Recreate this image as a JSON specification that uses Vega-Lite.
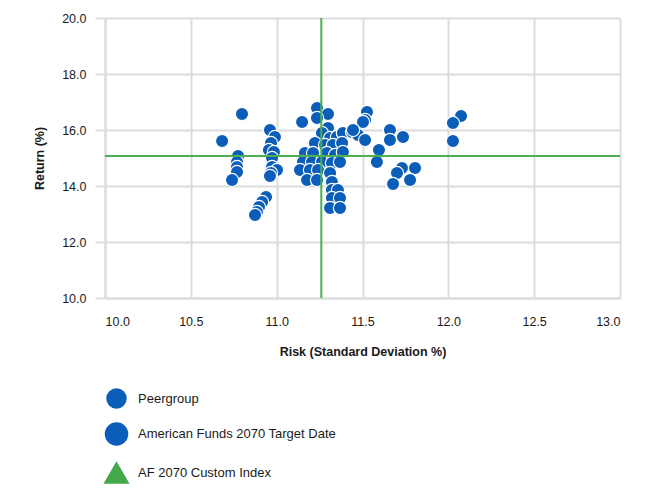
{
  "$schema": "https://vega.github.io/schema/vega-lite/v6.json",
  "width": 515,
  "height": 280,
  "autosize": "none",
  "padding": {"left": 105, "top": 18, "right": 44, "bottom": 190},
  "background": "white",
  "config": {
    "view": {"stroke": null},
    "font": "Liberation Sans",
    "axis": {
      "labelFont": "Liberation Sans",
      "labelFontSize": 12.5,
      "labelColor": "#1a1a1a",
      "titleFont": "Liberation Sans",
      "titleFontSize": 12.5,
      "titleFontWeight": "bold",
      "titleColor": "#1a1a1a",
      "gridColor": "#dcdcdc",
      "gridWidth": 2,
      "domainColor": "#dcdcdc",
      "domainWidth": 2,
      "tickColor": "#dcdcdc",
      "tickWidth": 2
    }
  },
  "datasets": {
    "points": [
      {"risk": 10.798, "ret": 16.571, "series": "Peergroup"},
      {"risk": 10.682, "ret": 15.607, "series": "Peergroup"},
      {"risk": 10.775, "ret": 15.071, "series": "Peergroup"},
      {"risk": 10.769, "ret": 14.857, "series": "Peergroup"},
      {"risk": 10.769, "ret": 14.679, "series": "Peergroup"},
      {"risk": 10.769, "ret": 14.5, "series": "Peergroup"},
      {"risk": 10.74, "ret": 14.214, "series": "Peergroup"},
      {"risk": 10.938, "ret": 13.607, "series": "Peergroup"},
      {"risk": 10.915, "ret": 13.429, "series": "Peergroup"},
      {"risk": 10.897, "ret": 13.25, "series": "Peergroup"},
      {"risk": 10.885, "ret": 13.071, "series": "Peergroup"},
      {"risk": 10.874, "ret": 12.964, "series": "Peergroup"},
      {"risk": 10.961, "ret": 16.0, "series": "Peergroup"},
      {"risk": 10.99, "ret": 15.75, "series": "Peergroup"},
      {"risk": 10.967, "ret": 15.536, "series": "Peergroup"},
      {"risk": 10.955, "ret": 15.286, "series": "Peergroup"},
      {"risk": 10.984, "ret": 15.214, "series": "Peergroup"},
      {"risk": 10.973, "ret": 15.0, "series": "Peergroup"},
      {"risk": 10.973, "ret": 14.679, "series": "Peergroup"},
      {"risk": 11.002, "ret": 14.571, "series": "Peergroup"},
      {"risk": 10.967, "ret": 14.464, "series": "Peergroup"},
      {"risk": 10.961, "ret": 14.357, "series": "Peergroup"},
      {"risk": 11.235, "ret": 16.786, "series": "Peergroup"},
      {"risk": 11.299, "ret": 16.571, "series": "Peergroup"},
      {"risk": 11.235, "ret": 16.429, "series": "Peergroup"},
      {"risk": 11.148, "ret": 16.286, "series": "Peergroup"},
      {"risk": 11.299, "ret": 16.071, "series": "Peergroup"},
      {"risk": 11.264, "ret": 15.893, "series": "Peergroup"},
      {"risk": 11.311, "ret": 15.714, "series": "Peergroup"},
      {"risk": 11.351, "ret": 15.75, "series": "Peergroup"},
      {"risk": 11.386, "ret": 15.893, "series": "Peergroup"},
      {"risk": 11.439, "ret": 15.929, "series": "Peergroup"},
      {"risk": 11.474, "ret": 15.821, "series": "Peergroup"},
      {"risk": 11.223, "ret": 15.536, "series": "Peergroup"},
      {"risk": 11.282, "ret": 15.464, "series": "Peergroup"},
      {"risk": 11.328, "ret": 15.464, "series": "Peergroup"},
      {"risk": 11.381, "ret": 15.536, "series": "Peergroup"},
      {"risk": 11.165, "ret": 15.179, "series": "Peergroup"},
      {"risk": 11.212, "ret": 15.179, "series": "Peergroup"},
      {"risk": 11.293, "ret": 15.179, "series": "Peergroup"},
      {"risk": 11.34, "ret": 15.107, "series": "Peergroup"},
      {"risk": 11.386, "ret": 15.214, "series": "Peergroup"},
      {"risk": 11.153, "ret": 14.857, "series": "Peergroup"},
      {"risk": 11.206, "ret": 14.857, "series": "Peergroup"},
      {"risk": 11.264, "ret": 14.857, "series": "Peergroup"},
      {"risk": 11.322, "ret": 14.821, "series": "Peergroup"},
      {"risk": 11.369, "ret": 14.857, "series": "Peergroup"},
      {"risk": 11.136, "ret": 14.571, "series": "Peergroup"},
      {"risk": 11.194, "ret": 14.571, "series": "Peergroup"},
      {"risk": 11.241, "ret": 14.571, "series": "Peergroup"},
      {"risk": 11.311, "ret": 14.464, "series": "Peergroup"},
      {"risk": 11.177, "ret": 14.214, "series": "Peergroup"},
      {"risk": 11.235, "ret": 14.214, "series": "Peergroup"},
      {"risk": 11.322, "ret": 14.143, "series": "Peergroup"},
      {"risk": 11.322, "ret": 13.857, "series": "Peergroup"},
      {"risk": 11.357, "ret": 13.857, "series": "Peergroup"},
      {"risk": 11.322, "ret": 13.571, "series": "Peergroup"},
      {"risk": 11.369, "ret": 13.571, "series": "Peergroup"},
      {"risk": 11.311, "ret": 13.214, "series": "Peergroup"},
      {"risk": 11.369, "ret": 13.214, "series": "Peergroup"},
      {"risk": 11.526, "ret": 16.643, "series": "Peergroup"},
      {"risk": 11.515, "ret": 16.357, "series": "Peergroup"},
      {"risk": 11.503, "ret": 16.286, "series": "Peergroup"},
      {"risk": 11.445, "ret": 16.0, "series": "Peergroup"},
      {"risk": 11.515, "ret": 15.643, "series": "Peergroup"},
      {"risk": 11.66, "ret": 16.0, "series": "Peergroup"},
      {"risk": 11.66, "ret": 15.643, "series": "Peergroup"},
      {"risk": 11.736, "ret": 15.75, "series": "Peergroup"},
      {"risk": 11.596, "ret": 15.286, "series": "Peergroup"},
      {"risk": 11.584, "ret": 14.857, "series": "Peergroup"},
      {"risk": 11.73, "ret": 14.643, "series": "Peergroup"},
      {"risk": 11.806, "ret": 14.643, "series": "Peergroup"},
      {"risk": 11.701, "ret": 14.464, "series": "Peergroup"},
      {"risk": 11.777, "ret": 14.214, "series": "Peergroup"},
      {"risk": 11.678, "ret": 14.071, "series": "Peergroup"},
      {"risk": 12.074, "ret": 16.5, "series": "Peergroup"},
      {"risk": 12.027, "ret": 16.25, "series": "Peergroup"},
      {"risk": 12.027, "ret": 15.607, "series": "Peergroup"}
    ],
    "legendrows": [
      {"risk": 5, "ret": 5, "series": "Peergroup"},
      {"risk": 5, "ret": 5, "series": "American Funds 2070 Target Date"},
      {"risk": 5, "ret": 5, "series": "AF 2070 Custom Index"}
    ],
    "cross": [
      {"risk": 11.26, "ret": 15.07}
    ]
  },
  "layer": [
    {
      "data": {"name": "points"},
      "mark": {"type": "point", "filled": true, "size": 175, "opacity": 1, "stroke": "white", "strokeWidth": 1.2},
      "encoding": {
        "x": {
          "field": "risk", "type": "quantitative",
          "scale": {"domain": [10, 13], "nice": false, "zero": false},
          "axis": {"title": "Risk (Standard Deviation %)", "values": [10, 10.5, 11, 11.5, 12, 12.5, 13], "format": ".1f", "ticks": false, "labelPadding": 17, "titlePadding": 18}
        },
        "y": {
          "field": "ret", "type": "quantitative",
          "scale": {"domain": [10, 20], "nice": false, "zero": false},
          "axis": {"title": "Return (%)", "values": [10, 12, 14, 16, 18, 20], "format": ".1f", "tickSize": 10, "labelPadding": 9, "titlePadding": 15}
        },
        "color": {
          "field": "series", "type": "nominal",
          "scale": {"domain": ["Peergroup", "American Funds 2070 Target Date", "AF 2070 Custom Index"], "range": ["#0a5db8", "#0a5db8", "#43a94a"]}
        },
        "shape": {
          "field": "series", "type": "nominal",
          "scale": {"domain": ["Peergroup", "American Funds 2070 Target Date", "AF 2070 Custom Index"], "range": ["circle", "circle", "triangle-up"]}
        }
      }
    },
    {
      "data": {"name": "legendrows"},
      "mark": {"type": "point", "filled": true, "clip": true, "opacity": 1},
      "encoding": {
        "x": {"field": "risk", "type": "quantitative"},
        "y": {"field": "ret", "type": "quantitative"},
        "color": {
          "field": "series", "type": "nominal",
          "legend": {
            "title": null,
            "orient": "none",
            "legendX": -2,
            "legendY": 370,
            "direction": "vertical",
            "labelFont": "Liberation Sans",
            "labelFontSize": 13,
            "labelColor": "#1a1a1a",
            "labelLimit": 400,
            "rowPadding": 13,
            "labelOffset": 8,
            "symbolStrokeWidth": 0
          }
        },
        "shape": {"field": "series", "type": "nominal"},
        "size": {
          "field": "series", "type": "nominal",
          "scale": {"domain": ["Peergroup", "American Funds 2070 Target Date", "AF 2070 Custom Index"], "range": [420, 680, 1400]}
        }
      }
    },
    {
      "data": {"name": "cross"},
      "mark": {"type": "rule", "color": "#4caf50", "strokeWidth": 2},
      "encoding": {"x": {"field": "risk", "type": "quantitative"}}
    },
    {
      "data": {"name": "cross"},
      "mark": {"type": "rule", "color": "#4caf50", "strokeWidth": 2},
      "encoding": {"y": {"field": "ret", "type": "quantitative"}}
    }
  ]
}
